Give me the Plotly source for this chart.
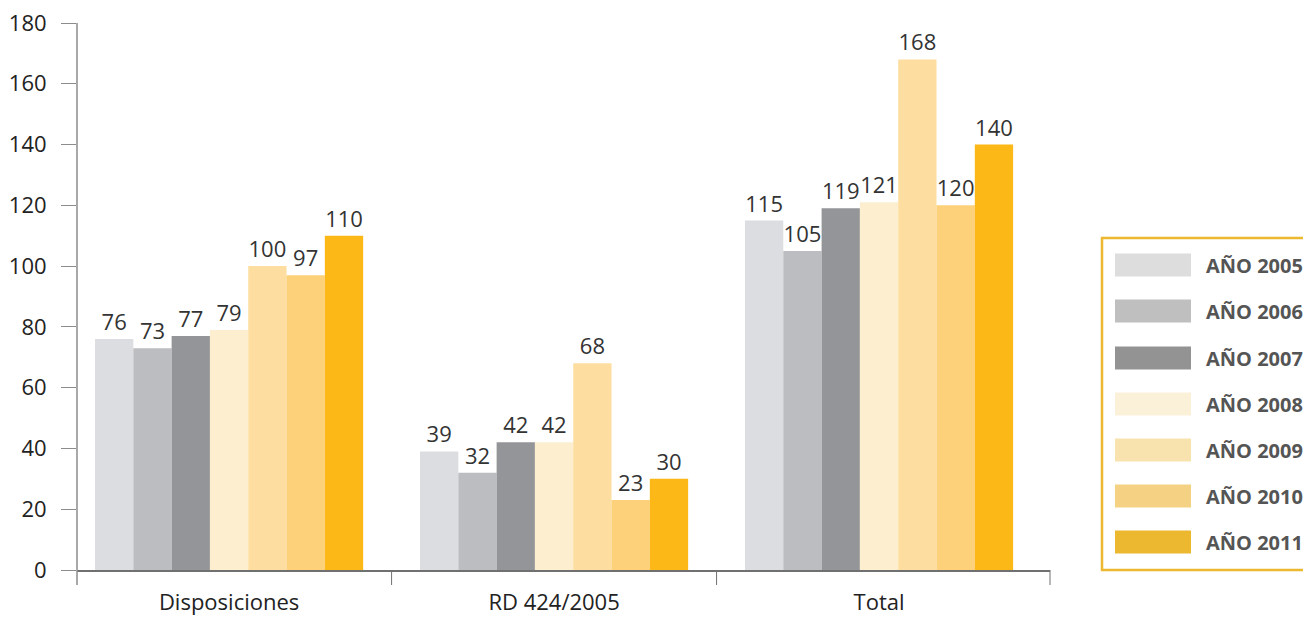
import plotly.graph_objects as go

categories = ["Disposiciones", "RD 424/2005", "Total"]
years = ["AÑO 2005", "AÑO 2006", "AÑO 2007", "AÑO 2008", "AÑO 2009", "AÑO 2010", "AÑO 2011"]
v2005 = [76, 39, 115]
v2006 = [73, 32, 105]
v2007 = [77, 42, 119]
v2008 = [79, 42, 121]
v2009 = [100, 68, 168]
v2010 = [97, 23, 120]
v2011 = [110, 30, 140]
series = [v2005, v2006, v2007, v2008, v2009, v2010, v2011]
y_ticks = [0, 20, 40, 60, 80, 100, 120, 140, 160, 180]

colors = ["#dcdde0", "#bcbdc0", "#949598", "#fdeecf", "#fddea0", "#fdd07a", "#fbb817"]
legend_colors = ["#dddddd", "#bfbfbf", "#939393", "#fbf1d8", "#f8e3ae", "#f5d283", "#ecb830"]

OFF = 8  # page body margin
W, H = 1311 - OFF, 617 - OFF
L, R, T, B = 77, 1050, 23, 570   # plot area in screenshot pixels
FONT = "Open Sans"

def px(x):
    return (x - L) / (R - L)

def py(y):
    return (B - y) / (B - T)

fig = go.Figure()
for name, vals, c in zip(years, series, colors):
    fig.add_trace(go.Bar(
        x=categories, y=vals, name=name, marker=dict(color=c, line=dict(width=0)),
        text=[str(v) for v in vals], textposition="outside",
        textfont=dict(family=FONT, size=22, color="#333333"),
        cliponaxis=False, showlegend=False,
    ))

shapes = []
annotations = []
# y axis line extending below the baseline
shapes.append(dict(type="line", xref="paper", yref="paper", x0=0, x1=0,
                   y0=py(585), y1=1, line=dict(color="#8c8c8c", width=1.5)))
# category boundary ticks
for xv in [0.5, 1.5]:
    shapes.append(dict(type="line", xref="x", yref="paper", x0=xv, x1=xv,
                       y0=py(585), y1=0, line=dict(color="#707070", width=1)))
shapes.append(dict(type="line", xref="paper", yref="paper", x0=1, x1=1,
                   y0=py(585), y1=0, line=dict(color="#707070", width=1)))
# custom legend box
shapes.append(dict(type="rect", xref="paper", yref="paper", x0=px(1102), x1=px(1318),
                   y0=py(570), y1=py(238), line=dict(color="#ecb830", width=2.5),
                   fillcolor="rgba(0,0,0,0)"))
rows = [265, 311, 358, 404, 450, 496, 542]
for yc, name, c in zip(rows, years, legend_colors):
    shapes.append(dict(type="rect", xref="paper", yref="paper", x0=px(1115), x1=px(1191),
                       y0=py(yc + 11.5), y1=py(yc - 11.5), line=dict(width=0), fillcolor=c))
    annotations.append(dict(xref="paper", yref="paper", x=px(1204), y=py(yc), text="<b>%s</b>" % name,
                            showarrow=False, xanchor="left", yanchor="middle",
                            font=dict(family=FONT, size=20, color="#555555")))

fig.update_layout(
    width=W, height=H, autosize=False,
    margin=dict(l=L - OFF, r=W - (R - OFF), t=T - OFF, b=H - (B - OFF), pad=0, autoexpand=False),
    barmode="group", bargap=0.175, bargroupgap=0,
    plot_bgcolor="white", paper_bgcolor="white",
    font=dict(family=FONT, size=21, color="#222222"),
    xaxis=dict(type="category", range=[-0.468, 2.526], showline=True, linecolor="#707070", linewidth=1.5,
               ticks="", ticklabelstandoff=12, automargin=False, ticklabeloverflow="allow",
               tickfont=dict(family=FONT, size=22, color="#222222"),
               showgrid=False, zeroline=False),
    yaxis=dict(range=[0, 180], tickvals=y_ticks, showline=False, ticks="outside", ticklen=15,
               tickcolor="#8c8c8c", tickwidth=1, showgrid=False, zeroline=False,
               ticklabelstandoff=10, automargin=False, ticklabeloverflow="allow",
               tickfont=dict(family=FONT, size=22, color="#222222")),
    shapes=shapes, annotations=annotations,
)

fig.write_html("out.html")
